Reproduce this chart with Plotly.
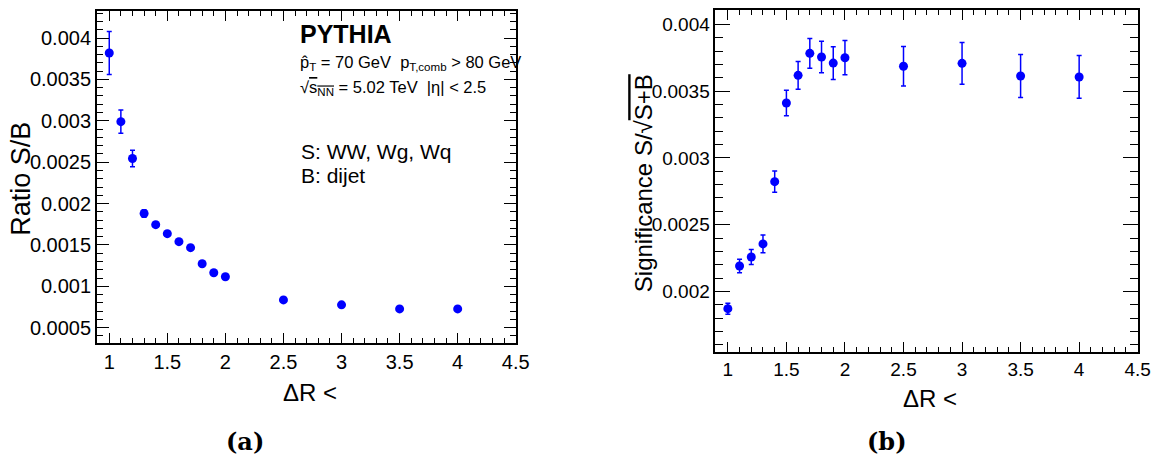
import plotly.graph_objects as go

W, H = 1168, 463

# ---- data ----
dr = [1.0, 1.1, 1.2, 1.3, 1.4, 1.5, 1.6, 1.7, 1.8, 1.9, 2.0, 2.5, 3.0, 3.5, 4.0]
ratio_sb = [0.00382, 0.00299, 0.002545, 0.00188, 0.001745, 0.001636, 0.00154, 0.001467,
            0.001273, 0.001164, 0.001115, 0.000836, 0.000776, 0.000727, 0.000727]
ratio_err = [0.00026, 0.00014, 0.0001, 0.000045, 0.00003, 0.00003, 0.000025, 0.000025,
             0.00002, 0.00002, 0.00002, 0.000015, 0.000012, 0.00001, 0.00001]
signif = [0.001871, 0.002191, 0.002258, 0.002356, 0.002822, 0.003411, 0.003618, 0.003783,
          0.003755, 0.00371, 0.00375, 0.003686, 0.003708, 0.003613, 0.003606]
signif_err = [0.000041, 0.00005, 0.000056, 0.000067, 0.00008, 0.000095, 0.000104, 0.000111,
              0.000118, 0.000123, 0.000128, 0.000148, 0.000156, 0.000161, 0.00016]

x_ticks = [1, 1.5, 2, 2.5, 3, 3.5, 4, 4.5]
x_ticktext = ["1", "1.5", "2", "2.5", "3", "3.5", "4", "4.5"]
yl_ticks = [0.0005, 0.001, 0.0015, 0.002, 0.0025, 0.003, 0.0035, 0.004]
yl_ticktext = ["0.0005", "0.001", "0.0015", "0.002", "0.0025", "0.003", "0.0035", "0.004"]
yr_ticks = [0.002, 0.0025, 0.003, 0.0035, 0.004]
yr_ticktext = ["0.002", "0.0025", "0.003", "0.0035", "0.004"]

FONT = "Liberation Sans, Arial, sans-serif"
BLUE = "#0000ff"

def px(x, y):
    return x / W, 1 - y / H

fig = go.Figure()

for xa, ya, yv, ev in [("x", "y", ratio_sb, ratio_err), ("x2", "y2", signif, signif_err)]:
    fig.add_trace(go.Scatter(
        x=dr, y=yv, xaxis=xa, yaxis=ya, mode="markers",
        marker=dict(color=BLUE, size=9),
        error_y=dict(type="data", array=ev, color=BLUE, thickness=1.5, width=2.5),
        showlegend=False))

def xaxis_style(domain, major, minor, fs):
    return dict(domain=domain, range=[0.893, 4.5], tickvals=x_ticks, ticktext=x_ticktext,
                ticks="inside", ticklen=major, tickwidth=1.2, tickcolor="black",
                minor=dict(dtick=0.1, tick0=0, ticks="inside", ticklen=minor, tickwidth=1, tickcolor="black"),
                showline=True, linecolor="black", linewidth=1.5, mirror="allticks",
                showgrid=False, zeroline=False,
                tickfont=dict(family=FONT, size=fs, color="black"))

def yaxis_style(domain, rng, tv, tt, major, minor, anchor, fs):
    return dict(domain=domain, range=rng, tickvals=tv, ticktext=tt, anchor=anchor,
                ticks="inside", ticklen=major, tickwidth=1.2, tickcolor="black",
                minor=dict(dtick=0.0001, tick0=0, ticks="inside", ticklen=minor, tickwidth=1, tickcolor="black"),
                showline=True, linecolor="black", linewidth=1.5, mirror="allticks",
                showgrid=False, zeroline=False,
                tickfont=dict(family=FONT, size=fs, color="black"))

fig.update_layout(
    width=W, height=H, margin=dict(l=0, r=0, t=0, b=0),
    paper_bgcolor="white", plot_bgcolor="white",
    xaxis=xaxis_style([98 / W, 522 / W], 10, 5, 20) | dict(anchor="y"),
    yaxis=yaxis_style([1 - 343 / H, 1 - 11 / H], [0.000315, 0.004327], yl_ticks, yl_ticktext, 12, 6, "x", 20),
    xaxis2=xaxis_style([724 / W, 1151.5 / W], 10, 5, 19) | dict(anchor="y2"),
    yaxis2=yaxis_style([1 - 351.7 / H, 1 - 10.3 / H], [0.001549, 0.004105], yr_ticks, yr_ticktext, 15, 8, "x2", 19),
)

def ann(x, y, text, size, xanchor="center", angle=0, family=FONT):
    xp, yp = px(x, y)
    fig.add_annotation(x=xp, y=yp, xref="paper", yref="paper", text=text, showarrow=False,
                       xanchor=xanchor, yanchor="middle", textangle=angle,
                       font=dict(family=family, size=size, color="black"))

# axis titles
ann(21, 179, "Ratio S/B", 27, angle=-90)
ann(651, 183, "Significance S/√<span style='text-decoration:overline'>S+B</span>", 24, angle=-90)
ann(314, 392, "ΔR <", 24)
ann(941, 398, "ΔR <", 24)

# panel labels
ann(248, 441, "<b>(a)</b>", 24, family="DejaVu Serif, serif")
ann(898, 441, "<b>(b)</b>", 24, family="DejaVu Serif, serif")

# in-plot text
ann(302, 34, "<b>PYTHIA</b>", 25, xanchor="left")
ann(302, 63, "p̂<sub>T</sub> = 70 GeV  p<sub>T,comb</sub> > 80 GeV", 16.5, xanchor="left")
ann(302, 88, "√<span style='text-decoration:overline'>s<sub>NN</sub></span> = 5.02 TeV  |η| < 2.5", 16.5, xanchor="left")
ann(303, 152, "S: WW, Wg, Wq", 21, xanchor="left")
ann(303, 175, "B: dijet", 21, xanchor="left")

fig.write_html("out.html")
